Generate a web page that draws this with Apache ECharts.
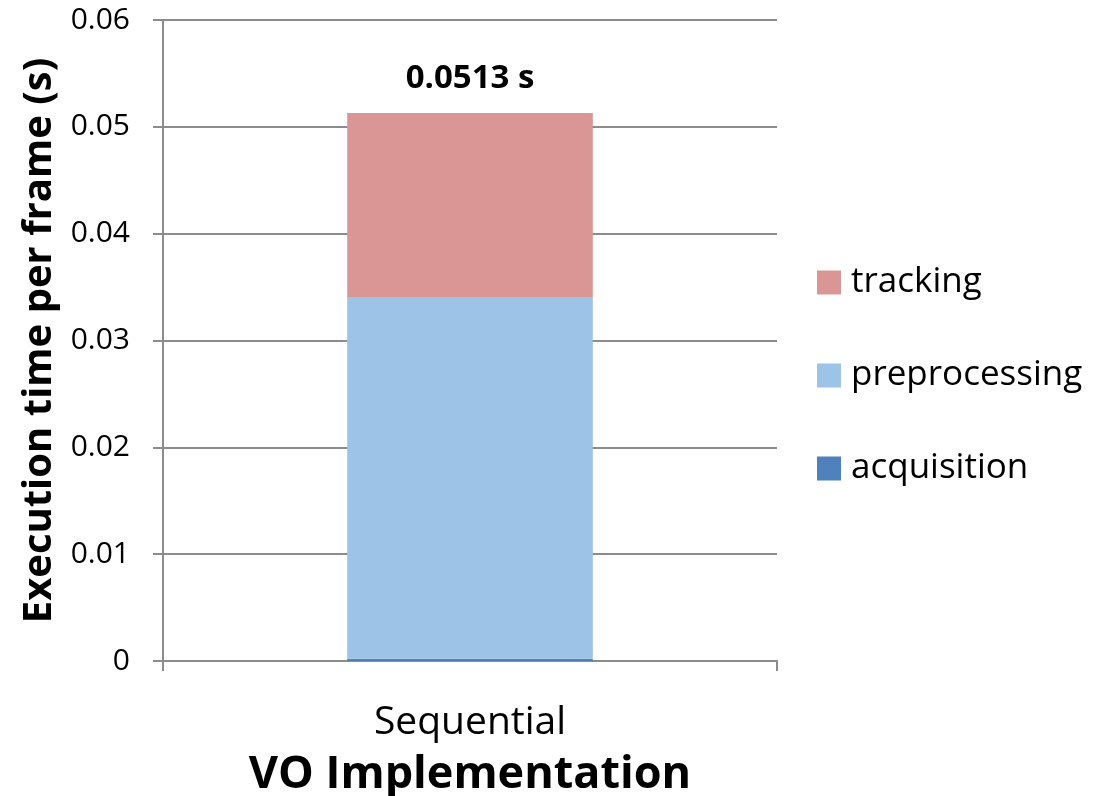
<!DOCTYPE html>
<html>
<head>
<meta charset="utf-8">
<script src="https://cdn.jsdelivr.net/npm/echarts@6/dist/echarts.min.js"></script>
<style>
  html, body { margin: 0; padding: 0; background: #fff; }
  #chart { width: 1098px; height: 796px; }
</style>
</head>
<body>
<div id="chart"></div>
<script>
var categories = ['Sequential'];
var acquisition = [0.0002];
var preprocessing = [0.0338];
var tracking = [0.0173];
var totalLabels = ['0.0513 s'];

var font = '"Open Sans", "Noto Sans", sans-serif';
var myChart = echarts.init(document.getElementById('chart'));

var option = {
  backgroundColor: '#fff',
  animation: false,
  textStyle: { fontFamily: font },
  grid: { left: 163, right: 321, top: 20, bottom: 135, outerBoundsMode: 'none', containLabel: false },
  legend: {
    orient: 'vertical',
    left: 812,
    top: 260,
    icon: 'rect',
    itemWidth: 24,
    itemHeight: 24,
    itemGap: 58,
    data: ['tracking', 'preprocessing', 'acquisition'],
    textStyle: { fontSize: 35, color: '#000', fontFamily: font, padding: [0, 0, 0, 5] }
  },
  xAxis: {
    type: 'category',
    data: categories,
    name: 'VO Implementation',
    nameLocation: 'middle',
    nameGap: 92,
    nameTextStyle: { fontSize: 45, fontWeight: 'bold', color: '#000' },
    axisLine: { lineStyle: { color: '#8c8c8c', width: 2 } },
    axisTick: { show: true, length: 10, lineStyle: { color: '#8c8c8c', width: 2 } },
    axisLabel: { fontSize: 39, color: '#000', margin: 42 }
  },
  yAxis: {
    type: 'value',
    min: 0,
    max: 0.06,
    interval: 0.01,
    name: 'Execution time per frame (s)',
    nameLocation: 'middle',
    nameGap: 100,
    nameTextStyle: { fontSize: 40, fontWeight: 'bold', color: '#000' },
    axisLine: { show: true, lineStyle: { color: '#8c8c8c', width: 2 } },
    axisTick: { show: true, length: 10, lineStyle: { color: '#8c8c8c', width: 2 } },
    axisLabel: { fontSize: 30, color: '#000', margin: 33 },
    splitLine: { lineStyle: { color: '#8c8c8c', width: 2 } }
  },
  series: [
    {
      name: 'acquisition', type: 'bar', stack: 'total', barWidth: '40%',
      itemStyle: { color: '#4f81bd' }, data: acquisition
    },
    {
      name: 'preprocessing', type: 'bar', stack: 'total',
      itemStyle: { color: '#9dc3e6' }, data: preprocessing
    },
    {
      name: 'tracking', type: 'bar', stack: 'total',
      itemStyle: { color: '#da9694' }, data: tracking,
      label: {
        show: true, position: 'top', distance: 18,
        fontSize: 33, fontWeight: 'bold', color: '#000',
        formatter: function (p) { return totalLabels[p.dataIndex]; }
      }
    }
  ]
};
myChart.setOption(option);
</script>
</body>
</html>
